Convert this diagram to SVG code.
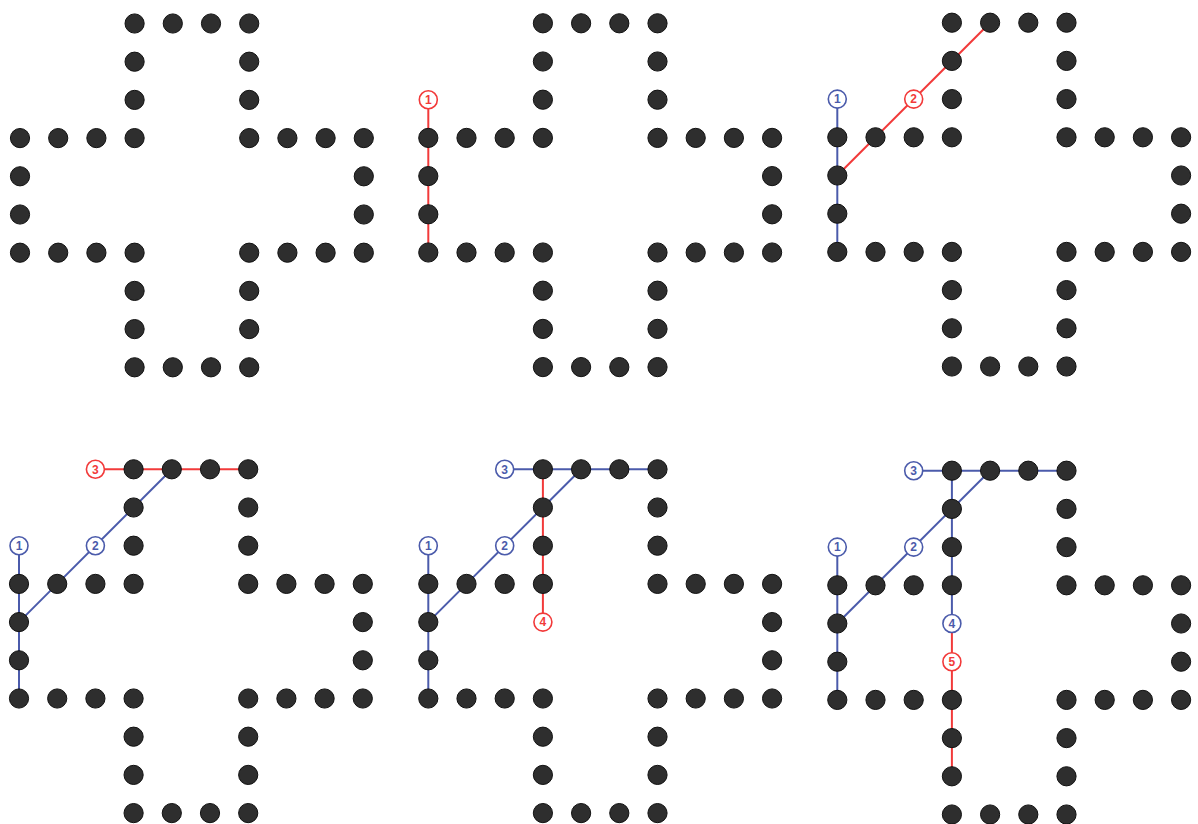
<svg xmlns="http://www.w3.org/2000/svg" xmlns:xlink="http://www.w3.org/1999/xlink" width="1198" height="824" viewBox="0 0 1198 824">
<style>
.dot{fill:#2e2e2e;stroke:#111;stroke-width:1}
.cb{stroke:#4b5bab;stroke-width:2;fill:none}
.cr{stroke:#f23a3a;stroke-width:2;fill:none}
.lb circle{fill:#fff;stroke:#4b5bab;stroke-width:1.6}
.lr circle{fill:#fff;stroke:#f23a3a;stroke-width:1.6}
.lb text{fill:#4b5bab}
.lr text{fill:#f23a3a}
text{font-family:"Liberation Sans",Arial,sans-serif;font-size:12px;text-anchor:middle;font-weight:bold}
</style>
<defs>
<g id="cross">
<circle class="dot" cx="114.6" cy="0" r="9.6"/><circle class="dot" cx="152.8" cy="0" r="9.6"/><circle class="dot" cx="191" cy="0" r="9.6"/><circle class="dot" cx="229.2" cy="0" r="9.6"/>
<circle class="dot" cx="114.6" cy="38.2" r="9.6"/><circle class="dot" cx="229.2" cy="38.2" r="9.6"/>
<circle class="dot" cx="114.6" cy="76.4" r="9.6"/><circle class="dot" cx="229.2" cy="76.4" r="9.6"/>
<circle class="dot" cx="0" cy="114.6" r="9.6"/><circle class="dot" cx="38.2" cy="114.6" r="9.6"/><circle class="dot" cx="76.4" cy="114.6" r="9.6"/><circle class="dot" cx="114.6" cy="114.6" r="9.6"/><circle class="dot" cx="229.2" cy="114.6" r="9.6"/><circle class="dot" cx="267.4" cy="114.6" r="9.6"/><circle class="dot" cx="305.6" cy="114.6" r="9.6"/><circle class="dot" cx="343.8" cy="114.6" r="9.6"/>
<circle class="dot" cx="0" cy="152.8" r="9.6"/><circle class="dot" cx="343.8" cy="152.8" r="9.6"/>
<circle class="dot" cx="0" cy="191" r="9.6"/><circle class="dot" cx="343.8" cy="191" r="9.6"/>
<circle class="dot" cx="0" cy="229.2" r="9.6"/><circle class="dot" cx="38.2" cy="229.2" r="9.6"/><circle class="dot" cx="76.4" cy="229.2" r="9.6"/><circle class="dot" cx="114.6" cy="229.2" r="9.6"/><circle class="dot" cx="229.2" cy="229.2" r="9.6"/><circle class="dot" cx="267.4" cy="229.2" r="9.6"/><circle class="dot" cx="305.6" cy="229.2" r="9.6"/><circle class="dot" cx="343.8" cy="229.2" r="9.6"/>
<circle class="dot" cx="114.6" cy="267.4" r="9.6"/><circle class="dot" cx="229.2" cy="267.4" r="9.6"/>
<circle class="dot" cx="114.6" cy="305.6" r="9.6"/><circle class="dot" cx="229.2" cy="305.6" r="9.6"/>
<circle class="dot" cx="114.6" cy="343.8" r="9.6"/><circle class="dot" cx="152.8" cy="343.8" r="9.6"/><circle class="dot" cx="191" cy="343.8" r="9.6"/><circle class="dot" cx="229.2" cy="343.8" r="9.6"/>
</g>
</defs>
<rect width="1198" height="824" fill="#fff"/>

<g id="panel1" transform="translate(20,23.5)">
<g id="p1-dots"><use href="#cross"/></g>
</g>

<g id="panel2" transform="translate(428.3,23.3)">
<g id="p2-connectors"><line class="cr" x1="0" y1="76.4" x2="0" y2="229.2"/></g>
<g id="p2-dots"><use href="#cross"/></g>
<g id="p2-l1" class="lr"><circle cx="0" cy="76.4" r="9"/><text x="0" y="80.7">1</text></g>
</g>

<g id="panel3" transform="translate(837.3,22.7)">
<g id="p3-connectors">
<line class="cb" x1="0" y1="76.4" x2="0" y2="229.2"/>
<line class="cr" x1="0" y1="152.8" x2="152.8" y2="0"/>
</g>
<g id="p3-dots"><use href="#cross"/></g>
<g id="p3-l1" class="lb"><circle cx="0" cy="76.4" r="9"/><text x="0" y="80.7">1</text></g>
<g id="p3-l2" class="lr"><circle cx="76.4" cy="76.4" r="9"/><text x="76.4" y="80.7">2</text></g>
</g>

<g id="panel4" transform="translate(19,469.3)">
<g id="p4-connectors">
<line class="cb" x1="0" y1="76.4" x2="0" y2="229.2"/>
<line class="cb" x1="0" y1="152.8" x2="152.8" y2="0"/>
<line class="cr" x1="76.4" y1="0" x2="229.2" y2="0"/>
</g>
<g id="p4-dots"><use href="#cross"/></g>
<g id="p4-l1" class="lb"><circle cx="0" cy="76.4" r="9"/><text x="0" y="80.7">1</text></g>
<g id="p4-l2" class="lb"><circle cx="76.4" cy="76.4" r="9"/><text x="76.4" y="80.7">2</text></g>
<g id="p4-l3" class="lr"><circle cx="76.4" cy="0" r="9"/><text x="76.4" y="4.3">3</text></g>
</g>

<g id="panel5" transform="translate(428.3,469.3)">
<g id="p5-connectors">
<line class="cb" x1="0" y1="76.4" x2="0" y2="229.2"/>
<line class="cb" x1="0" y1="152.8" x2="152.8" y2="0"/>
<line class="cb" x1="76.4" y1="0" x2="229.2" y2="0"/>
<line class="cr" x1="114.6" y1="0" x2="114.6" y2="152.8"/>
</g>
<g id="p5-dots"><use href="#cross"/></g>
<g id="p5-l1" class="lb"><circle cx="0" cy="76.4" r="9"/><text x="0" y="80.7">1</text></g>
<g id="p5-l2" class="lb"><circle cx="76.4" cy="76.4" r="9"/><text x="76.4" y="80.7">2</text></g>
<g id="p5-l3" class="lb"><circle cx="76.4" cy="0" r="9"/><text x="76.4" y="4.3">3</text></g>
<g id="p5-l4" class="lr"><circle cx="114.6" cy="152.8" r="9"/><text x="114.6" y="157.1">4</text></g>
</g>

<g id="panel6" transform="translate(837.3,470.7)">
<g id="p6-connectors">
<line class="cb" x1="0" y1="76.4" x2="0" y2="229.2"/>
<line class="cb" x1="0" y1="152.8" x2="152.8" y2="0"/>
<line class="cb" x1="76.4" y1="0" x2="229.2" y2="0"/>
<line class="cb" x1="114.6" y1="0" x2="114.6" y2="152.8"/>
<line class="cr" x1="114.6" y1="152.8" x2="114.6" y2="305.6"/>
</g>
<g id="p6-dots"><use href="#cross"/></g>
<g id="p6-l1" class="lb"><circle cx="0" cy="76.4" r="9"/><text x="0" y="80.7">1</text></g>
<g id="p6-l2" class="lb"><circle cx="76.4" cy="76.4" r="9"/><text x="76.4" y="80.7">2</text></g>
<g id="p6-l3" class="lb"><circle cx="76.4" cy="0" r="9"/><text x="76.4" y="4.3">3</text></g>
<g id="p6-l4" class="lb"><circle cx="114.6" cy="152.8" r="9"/><text x="114.6" y="157.1">4</text></g>
<g id="p6-l5" class="lr"><circle cx="114.6" cy="191" r="9"/><text x="114.6" y="195.3">5</text></g>
</g>
</svg>
